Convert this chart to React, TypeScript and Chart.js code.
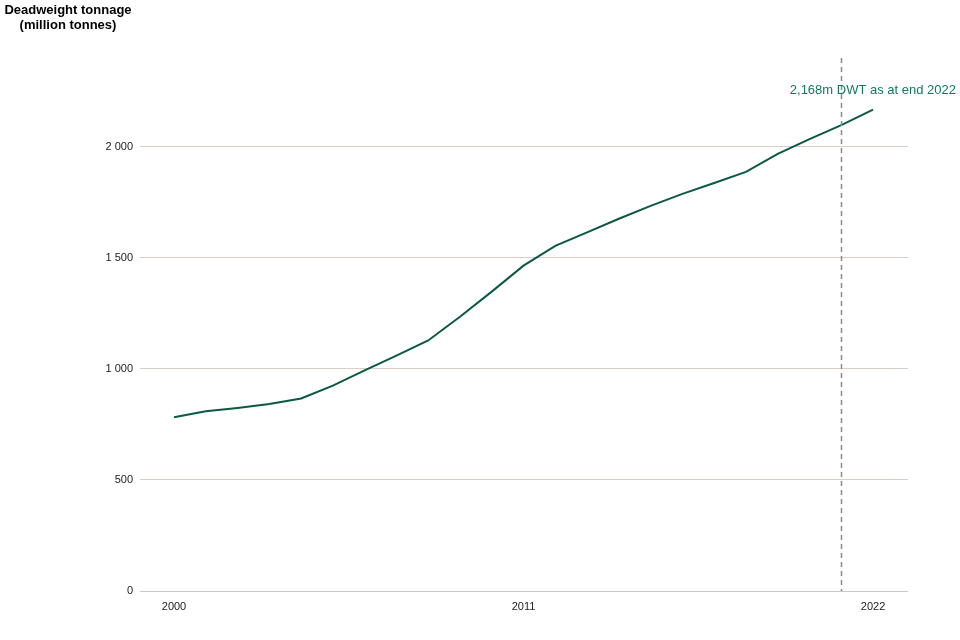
import React, { useEffect, useRef } from "react";
import { Chart, registerables } from "chart.js";

Chart.register(...registerables);

const years = [2000, 2001, 2002, 2003, 2004, 2005, 2006, 2007, 2008, 2009, 2010, 2011, 2012, 2013, 2014, 2015, 2016, 2017, 2018, 2019, 2020, 2021, 2022];
const dwt = [782, 809, 824, 842, 867, 925, 993, 1060, 1128, 1235, 1348, 1465, 1554, 1615, 1676, 1734, 1788, 1837, 1887, 1968, 2035, 2098, 2168];
const xTickYears = [2000, 2011, 2022];
const yTicks = [0, 500, 1000, 1500, 2000];
const titleLines = ["Deadweight tonnage", "(million tonnes)"];
const annotationText = "2,168m DWT as at end 2022";
const markerYear = 2021;

const FONT = "'Liberation Sans', Arial, sans-serif";

export default function App() {
  const ref = useRef<HTMLCanvasElement | null>(null);

  useEffect(() => {
    document.body.style.margin = "0";
    const canvas = ref.current;
    if (!canvas) return;

    const overlay = {
      id: "overlay",
      afterDatasetsDraw(chart: any) {
        const { ctx, chartArea, scales } = chart;
        const x = scales.x.getPixelForValue(markerYear);
        ctx.save();
        ctx.strokeStyle = "#8a8a8a";
        ctx.lineWidth = 1.5;
        ctx.setLineDash([5, 4]);
        ctx.beginPath();
        ctx.moveTo(Math.round(x) + 0.5, chartArea.top);
        ctx.lineTo(Math.round(x) + 0.5, chartArea.bottom);
        ctx.stroke();
        ctx.setLineDash([]);

        ctx.fillStyle = "#117a5c";
        ctx.font = `13px ${FONT}`;
        ctx.textAlign = "right";
        ctx.textBaseline = "middle";
        const ty = scales.y.getPixelForValue(2255);
        ctx.fillText(annotationText, 956, ty);

        ctx.fillStyle = "#000";
        ctx.font = `bold 13px ${FONT}`;
        ctx.textAlign = "center";
        ctx.fillText(titleLines[0], 68, 10);
        ctx.fillText(titleLines[1], 68, 25);
        ctx.restore();
      },
    };

    const chart = new Chart(canvas, {
      type: "line",
      data: {
        datasets: [
          {
            data: years.map((y, i) => ({ x: y, y: dwt[i] })),
            borderColor: "#0b5a40",
            borderWidth: 2,
            pointRadius: 0,
            tension: 0,
            fill: false,
          },
        ],
      },
      options: {
        animation: false,
        responsive: false,
        devicePixelRatio: 1,
        layout: { padding: { top: 58, right: 52, left: 0, bottom: 0 } },
        plugins: { legend: { display: false }, tooltip: { enabled: false } },
        scales: {
          x: {
            type: "linear",
            min: 1998.93,
            max: 2023.1,
            afterBuildTicks(scale: any) {
              scale.ticks = xTickYears.map((v) => ({ value: v }));
            },
            afterFit(scale: any) {
              scale.height = 49;
            },
            grid: { display: false, drawTicks: false },
            border: { display: false },
            ticks: {
              color: "#222",
              font: { family: FONT, size: 11 },
              padding: 9,
              maxRotation: 0,
              autoSkip: false,
              callback: (v: any) => String(v),
            },
          },
          y: {
            min: 0,
            max: 2400,
            afterBuildTicks(scale: any) {
              scale.ticks = yTicks.map((v) => ({ value: v }));
            },
            afterFit(scale: any) {
              scale.width = 140;
            },
            grid: {
              drawTicks: false,
              color: (c: any) => (c.tick && c.tick.value === 0 ? "#c8c8c8" : "#d8d0c8"),
              lineWidth: 1,
            },
            border: { display: false },
            ticks: {
              color: "#222",
              font: { family: FONT, size: 11 },
              padding: 7,
              callback: (v: any) => {
                const n = Number(v);
                return n >= 1000 ? `${Math.floor(n / 1000)} ${String(n % 1000).padStart(3, "0")}` : String(n);
              },
            },
          },
        },
      },
      plugins: [overlay],
    } as any);

    return () => chart.destroy();
  }, []);

  return (
    <div style={{ width: 960, height: 640 }}>
      <canvas ref={ref} width={960} height={640} />
    </div>
  );
}
